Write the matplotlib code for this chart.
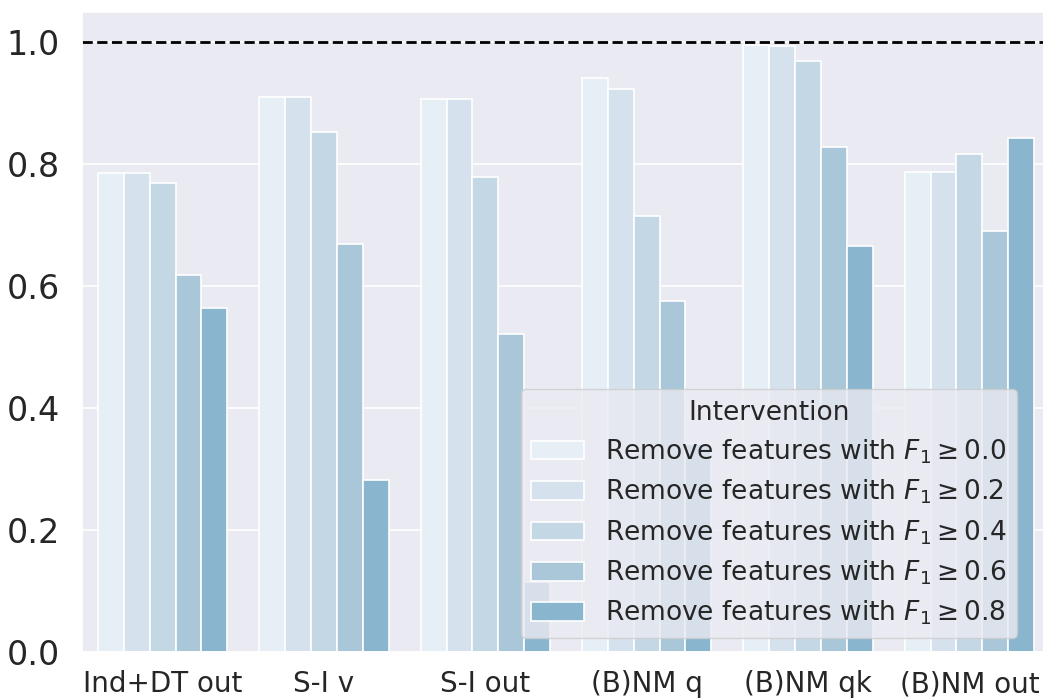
import numpy as np
import matplotlib
matplotlib.use("Agg")
import matplotlib.pyplot as plt
import seaborn as sns

# readings from the reference chart
components = ["Ind+DT out", "S-I v", "S-I out", "(B)NM q", "(B)NM qk", "(B)NM out"]
thresholds = ["0.0", "0.2", "0.4", "0.6", "0.8"]
f1_ge_00 = [0.786, 0.911, 0.908, 0.942, 0.996, 0.788]
f1_ge_02 = [0.786, 0.911, 0.907, 0.924, 0.994, 0.787]
f1_ge_04 = [0.769, 0.853, 0.779, 0.715, 0.969, 0.817]
f1_ge_06 = [0.618, 0.670, 0.522, 0.576, 0.828, 0.690]
f1_ge_08 = [0.565, 0.283, 0.115, 0.342, 0.666, 0.844]
colors = ["#e6eef6", "#d5e2ed", "#c4d7e5", "#a9c7d9", "#8ab5cf"]

sns.set_theme(style="darkgrid")
plt.rcParams["font.family"] = ["DejaVu Sans"]

fig = plt.figure(figsize=(10.43, 6.98), dpi=100)
ax = fig.add_axes([82 / 1043, 46 / 698, 968 / 1043, 640 / 698])

series = [f1_ge_00, f1_ge_02, f1_ge_04, f1_ge_06, f1_ge_08]
x = np.arange(len(components))
width = 0.8 / len(series)
for i, (vals, thr, col) in enumerate(zip(series, thresholds, colors)):
    offset = (i - (len(series) - 1) / 2) * width
    ax.bar(x + offset, vals, width=width, color=col, edgecolor="white",
           linewidth=1.2, label=rf"Remove features with $F_1 \geq {thr}$")

ax.axhline(1.0, color="black", linestyle="--", linewidth=2)

ax.set_xlim(-0.5, len(components) - 0.5)
ax.set_ylim(0, 1.05)
ax.set_yticks([0.0, 0.2, 0.4, 0.6, 0.8, 1.0])
ax.set_yticklabels(["0.0", "0.2", "0.4", "0.6", "0.8", "1.0"])
ax.set_xticks(x)
ax.set_xticklabels(components)
ax.tick_params(axis="y", labelsize=24, pad=10)
ax.tick_params(axis="x", labelsize=20, pad=7)
ax.grid(True, axis="y", color="white", linewidth=1.2)
ax.grid(False, axis="x")

ax.legend(title="Intervention", fontsize=19, title_fontsize=19,
          loc="lower right", bbox_to_anchor=(1017 / 1043, 60 / 698),
          bbox_transform=fig.transFigure, borderaxespad=0, labelspacing=0.45)

fig.savefig("out.png", dpi=100)
